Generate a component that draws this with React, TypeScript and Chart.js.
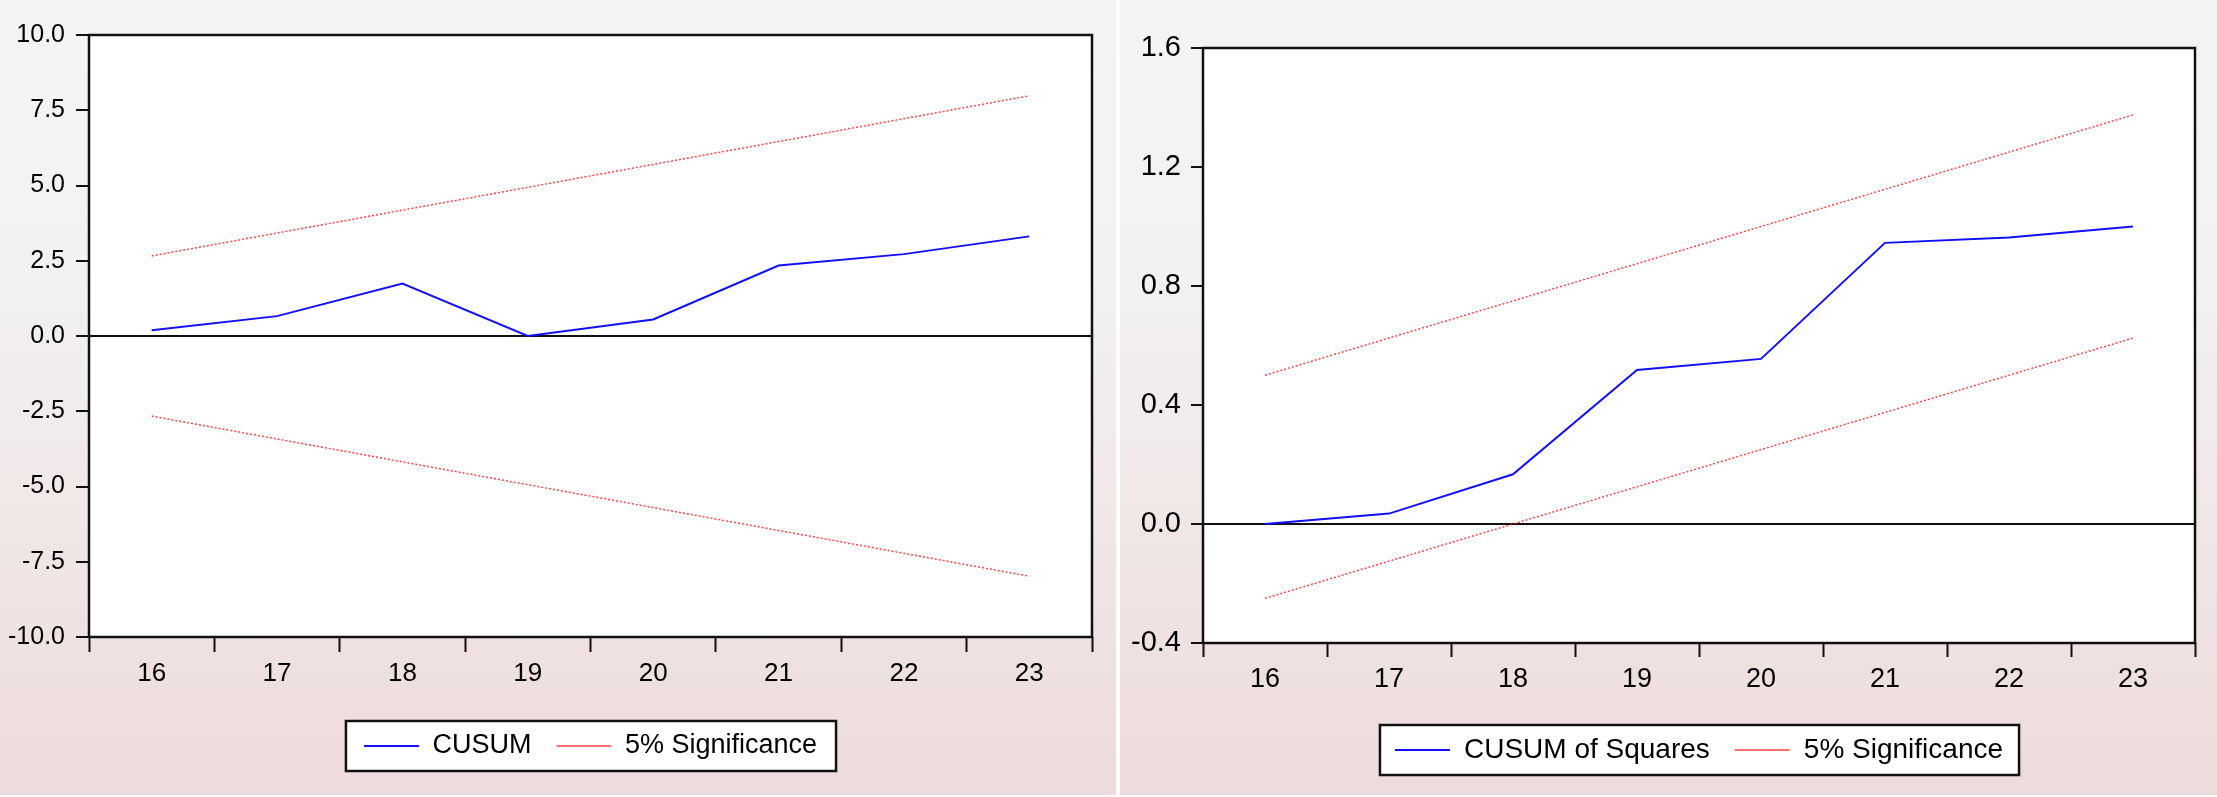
import React, { useEffect, useRef } from 'react';
import { Chart, registerables } from 'chart.js';

Chart.register(...registerables);

// ---------- data ----------
const categories = ['16', '17', '18', '19', '20', '21', '22', '23'];

const cusumValues = [0.19, 0.66, 1.74, 0.0, 0.55, 2.34, 2.72, 3.31];
const cusumUpper = [2.66, 3.42, 4.18, 4.94, 5.7, 6.46, 7.22, 7.98];
const cusumLower = [-2.66, -3.42, -4.18, -4.94, -5.7, -6.46, -7.22, -7.98];
const cusumTicks = [-10, -7.5, -5, -2.5, 0, 2.5, 5, 7.5, 10];

const cusumSqValues = [0.0, 0.035, 0.167, 0.518, 0.555, 0.945, 0.963, 1.0];
const cusumSqUpper = [0.5, 0.625, 0.75, 0.875, 1.0, 1.125, 1.25, 1.375];
const cusumSqLower = [-0.25, -0.125, 0.0, 0.125, 0.25, 0.375, 0.5, 0.625];
const cusumSqTicks = [-0.4, 0, 0.4, 0.8, 1.2, 1.6];

const FONT = '"Liberation Sans", Arial, sans-serif';

type PanelSpec = {
  id: string;
  left: number;
  width: number;
  height: number;
  seriesLabel: string;
  values: number[];
  upper: number[];
  lower: number[];
  ticks: number[];
  yWidth: number;
  yTickLen: number;
  yPad: number;
  yFont: number;
  xTickLen: number;
  xPad: number;
  xFont: number;
  xHeight: number;
  legendFont: number;
  padTop: number;
  padRight: number;
  padBottom: number;
  boxPadL: number;
  boxPadR: number;
};

const panels: PanelSpec[] = [
  {
    id: 'cusum',
    left: 0,
    width: 1116,
    height: 795,
    seriesLabel: 'CUSUM',
    values: cusumValues,
    upper: cusumUpper,
    lower: cusumLower,
    ticks: cusumTicks,
    yWidth: 89,
    yTickLen: 13,
    yPad: 11,
    yFont: 25,
    xTickLen: 15,
    xPad: 6,
    xFont: 26,
    xHeight: 70.5,
    legendFont: 27,
    padTop: 35,
    padRight: 24,
    padBottom: 25.5,
    boxPadL: 18,
    boxPadR: 19,
  },
  {
    id: 'cusumsq',
    left: 1120,
    width: 1097,
    height: 795,
    seriesLabel: 'CUSUM of Squares',
    values: cusumSqValues,
    upper: cusumSqUpper,
    lower: cusumSqLower,
    ticks: cusumSqTicks,
    yWidth: 83,
    yTickLen: 12,
    yPad: 10,
    yFont: 29,
    xTickLen: 14,
    xPad: 6,
    xFont: 27,
    xHeight: 68,
    legendFont: 28,
    padTop: 48,
    padRight: 22,
    padBottom: 21,
    boxPadL: 15,
    boxPadR: 16,
  },
];

function makePlugin(p: PanelSpec) {
  const legendRect = (chart: any) => {
    const hb = chart.legend && chart.legend.legendHitBoxes;
    if (!hb || !hb.length) return null;
    let minL = Infinity;
    let maxR = -Infinity;
    hb.forEach((h: any) => {
      minL = Math.min(minL, h.left);
      maxR = Math.max(maxR, h.left + h.width);
    });
    const cy = hb[0].top + hb[0].height / 2;
    return { x: minL - p.boxPadL, y: cy - 25, w: maxR - minL + p.boxPadL + p.boxPadR, h: 50 };
  };
  return {
    id: 'frame_' + p.id,
    beforeDraw(chart: any) {
      const { ctx, chartArea } = chart;
      ctx.save();
      ctx.fillStyle = '#ffffff';
      ctx.fillRect(chartArea.left, chartArea.top, chartArea.right - chartArea.left, chartArea.bottom - chartArea.top);
      const r = legendRect(chart);
      if (r) ctx.fillRect(r.x, r.y, r.w, r.h);
      ctx.restore();
    },
    afterDraw(chart: any) {
      const { ctx, chartArea } = chart;
      ctx.save();
      ctx.strokeStyle = '#111111';
      ctx.lineWidth = 2.5;
      ctx.strokeRect(chartArea.left, chartArea.top, chartArea.right - chartArea.left, chartArea.bottom - chartArea.top);
      const r = legendRect(chart);
      if (r) {
        ctx.lineWidth = 2.5;
        ctx.strokeRect(r.x, r.y, r.w, r.h);
      }
      ctx.restore();
    },
  };
}

function makeConfig(p: PanelSpec): any {
  const red = 'rgba(255,20,20,0.8)';
  return {
    type: 'line',
    data: {
      labels: categories,
      datasets: [
        {
          label: p.seriesLabel,
          data: p.values,
          borderColor: '#1010ff',
          backgroundColor: '#1010ff',
          borderWidth: 2,
          pointRadius: 0,
          tension: 0,
          fill: false,
        },
        {
          label: '5% Significance',
          data: p.upper,
          borderColor: red,
          backgroundColor: red,
          borderWidth: 1.5,
          borderDash: [2, 2],
          pointRadius: 0,
          tension: 0,
          fill: false,
        },
        {
          label: '5% Significance',
          data: p.lower,
          borderColor: red,
          backgroundColor: red,
          borderWidth: 1.5,
          borderDash: [2, 2],
          pointRadius: 0,
          tension: 0,
          fill: false,
        },
      ],
    },
    options: {
      animation: false,
      responsive: false,
      devicePixelRatio: 1,
      layout: { padding: { top: p.padTop, right: p.padRight, bottom: p.padBottom, left: 0 } },
      plugins: {
        tooltip: { enabled: false },
        legend: {
          display: true,
          position: 'bottom',
          fullSize: false,
          labels: {
            usePointStyle: true,
            pointStyle: 'line',
            pointStyleWidth: 55,
            boxHeight: p.legendFont,
            padding: 25,
            color: '#000',
            font: { family: FONT, size: p.legendFont },
            filter: (item: any) => item.datasetIndex !== 2,
          },
        },
      },
      scales: {
        x: {
          type: 'category',
          offset: true,
          grid: {
            offset: true,
            drawOnChartArea: false,
            drawTicks: true,
            tickLength: p.xTickLen,
            tickColor: '#111',
            tickWidth: 2,
          },
          border: { display: false },
          ticks: {
            color: '#000',
            padding: p.xPad,
            font: { family: FONT, size: p.xFont },
            maxRotation: 0,
            autoSkip: false,
          },
          afterFit: (scale: any) => {
            scale.height = p.xHeight;
          },
        },
        y: {
          type: 'linear',
          min: p.ticks[0],
          max: p.ticks[p.ticks.length - 1],
          afterBuildTicks: (scale: any) => {
            scale.ticks = p.ticks.map((v) => ({ value: v }));
          },
          grid: {
            drawOnChartArea: true,
            drawTicks: true,
            tickLength: p.yTickLen,
            color: (ctx: any) => (ctx.tick && Math.abs(ctx.tick.value) < 1e-9 ? '#111' : 'rgba(0,0,0,0)'),
            lineWidth: 2,
            tickColor: '#111',
            tickWidth: 2,
          },
          border: { display: false },
          ticks: {
            color: '#000',
            padding: p.yPad,
            font: { family: FONT, size: p.yFont },
            callback: (v: any) => Number(v).toFixed(1),
          },
          afterFit: (scale: any) => {
            scale.width = p.yWidth;
          },
        },
      },
    },
    plugins: [makePlugin(p)],
  };
}

function Panel({ p }: { p: PanelSpec }) {
  const ref = useRef<HTMLCanvasElement | null>(null);
  useEffect(() => {
    if (!ref.current) return;
    const chart = new Chart(ref.current, makeConfig(p));
    return () => chart.destroy();
  }, [p]);
  return (
    <div
      style={{
        position: 'absolute',
        left: p.left,
        top: 0,
        width: p.width,
        height: p.height,
        background: 'linear-gradient(180deg, #f4f4f4 0%, #f3f1f1 35%, #eedbdb 100%)',
      }}
    >
      <canvas ref={ref} width={p.width} height={p.height} style={{ display: 'block', width: p.width, height: p.height }} />
    </div>
  );
}

export default function App() {
  return (
    <div
      style={{
        position: 'fixed',
        left: 0,
        top: 0,
        width: 2217,
        height: 797,
        background: '#ffffff',
        overflow: 'hidden',
      }}
    >
      {panels.map((p) => (
        <Panel key={p.id} p={p} />
      ))}
    </div>
  );
}
